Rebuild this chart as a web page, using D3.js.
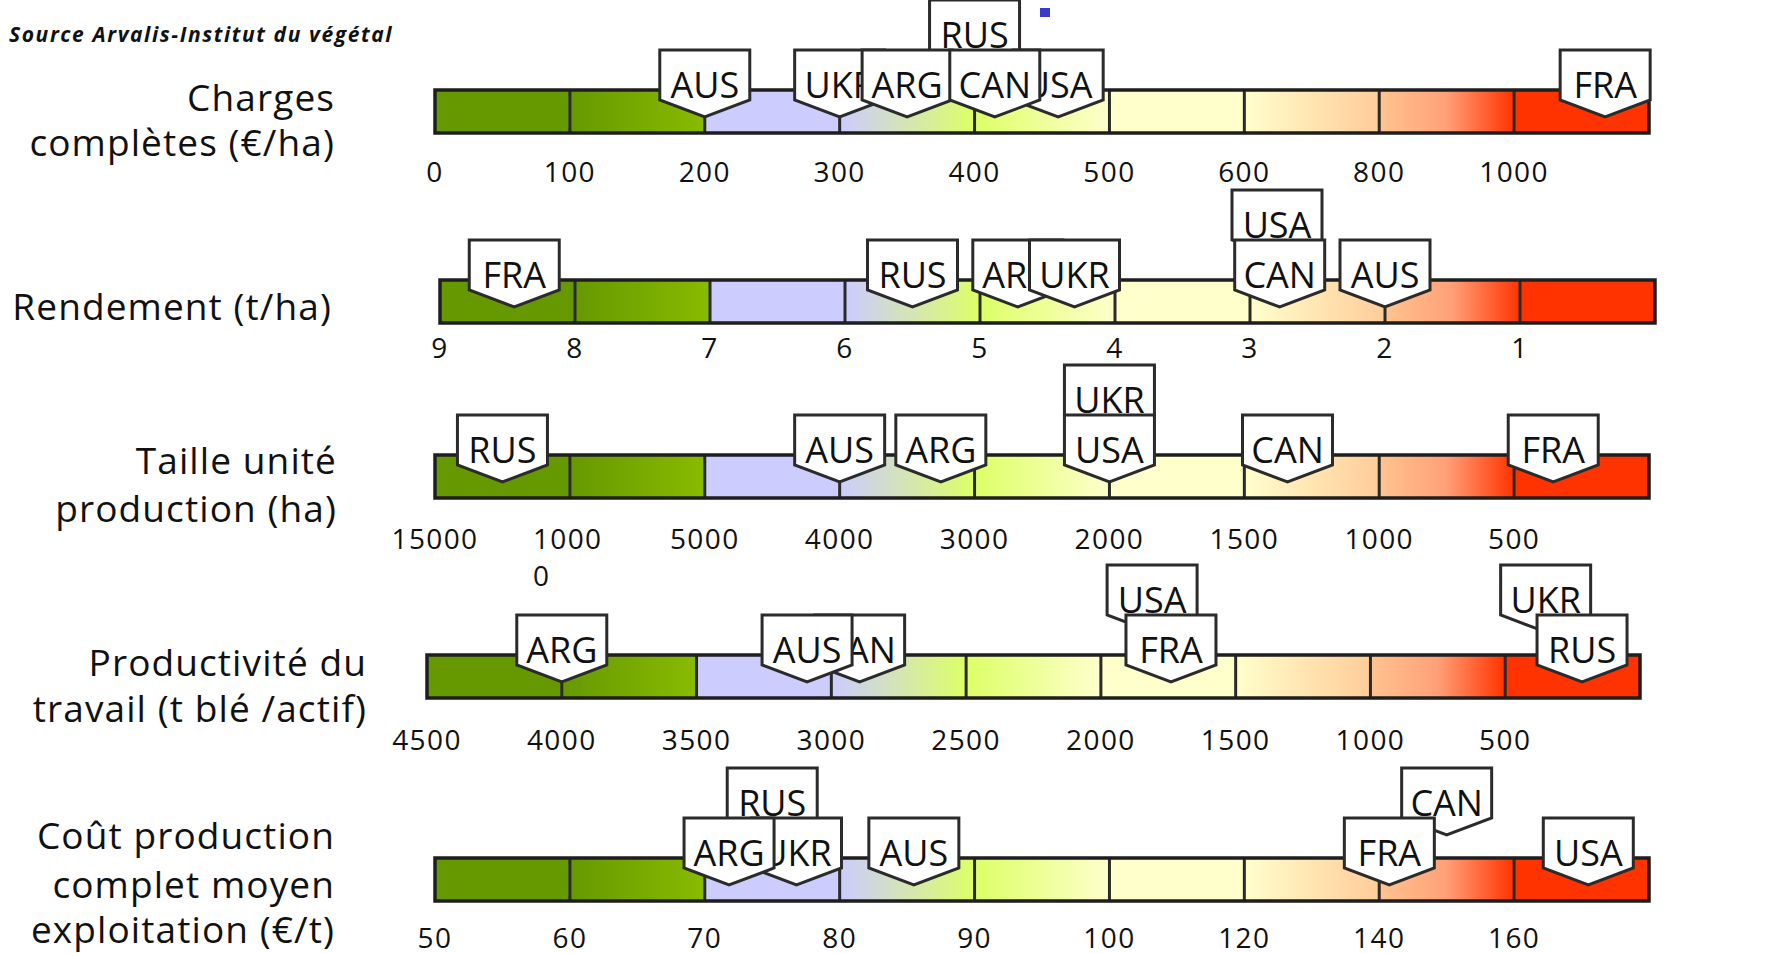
<!DOCTYPE html>
<html><head><meta charset="utf-8">
<script src="https://cdn.jsdelivr.net/npm/d3@7"></script>
<style>body{margin:0;background:#fff} svg{display:block}</style>
</head><body><svg id="c" width="1771" height="953"></svg>
<script>
// ---------- DATA ----------
const sourceText = "Source Arvalis-Institut du végétal";
const rowTitles = [
  ["Charges", "complètes (€/ha)"],
  ["Rendement (t/ha)"],
  ["Taille unité", "production (ha)"],
  ["Productivité du", "travail (t blé /actif)"],
  ["Coût production", "complet moyen", "exploitation (€/t)"]
];
// scale breakpoints (last one is the unlabelled end of the bar)
const chargesTicks      = [0, 100, 200, 300, 400, 500, 600, 800, 1000, 1200];
const rendementTicks    = [9, 8, 7, 6, 5, 4, 3, 2, 1, 0];
const tailleTicks       = [15000, 10000, 5000, 4000, 3000, 2000, 1500, 1000, 500, 0];
const productiviteTicks = [4500, 4000, 3500, 3000, 2500, 2000, 1500, 1000, 500, 0];
const coutTicks         = [50, 60, 70, 80, 90, 100, 120, 140, 160, 180];

// countries in drawing order, values, stacking tier (1 = raised marker)
const chargesCountries = ["RUS", "AUS", "UKR", "ARG", "USA", "CAN", "FRA"];
const chargesValues    = [400, 200, 300, 350, 462, 415, 1135];
const chargesTier      = [1, 0, 0, 0, 0, 0, 0];

const rendementCountries = ["USA", "FRA", "RUS", "ARG", "UKR", "CAN", "AUS"];
const rendementValues    = [2.8, 8.45, 5.5, 4.72, 4.3, 2.78, 2.0];
const rendementTier      = [1, 0, 0, 0, 0, 0, 0];

const tailleCountries = ["UKR", "RUS", "AUS", "ARG", "USA", "CAN", "FRA"];
const tailleValues    = [2000, 12500, 4000, 3250, 2000, 1340, 355];
const tailleTier      = [1, 0, 0, 0, 0, 0, 0];

const productiviteCountries = ["USA", "UKR", "ARG", "CAN", "AUS", "FRA", "RUS"];
const productiviteValues    = [1810, 350, 4000, 2895, 3090, 1740, 215];
const productiviteTier      = [1, 1, 0, 0, 0, 0, 0];

const coutCountries = ["RUS", "CAN", "UKR", "ARG", "AUS", "FRA", "USA"];
const coutValues    = [75, 150, 76.8, 71.8, 85.5, 141.5, 171];
const coutTier      = [1, 1, 0, 0, 0, 0, 0];

// ---------- STYLE / LAYOUT ----------
const segColors = [
  [["0", "#669900"], ["1", "#669900"]],
  [["0", "#669900"], ["1", "#88bb00"]],
  [["0", "#ccccff"], ["1", "#ccccff"]],
  [["0", "#ccccff"], ["1", "#ddff66"]],
  [["0", "#ddff66"], ["1", "#ffffcc"]],
  [["0", "#ffffcc"], ["1", "#ffffcc"]],
  [["0", "#ffffcc"], ["1", "#ffcc99"]],
  [["0", "#ffc490"], ["0.5", "#ff9f78"], ["1", "#ff3300"]],
  [["0", "#ff3300"], ["1", "#ff3300"]]
];
const FONT = "'Open Sans', 'Noto Sans', sans-serif";
const rows = [
  {ticks: chargesTicks, countries: chargesCountries, values: chargesValues, tier: chargesTier,
   x0: 435, x1: 1649, top: 90, labelY: 172, titleX: 335, titleYs: [98, 143]},
  {ticks: rendementTicks, countries: rendementCountries, values: rendementValues, tier: rendementTier,
   x0: 440, x1: 1655, top: 280, labelY: 348, titleX: 332, titleYs: [307]},
  {ticks: tailleTicks, countries: tailleCountries, values: tailleValues, tier: tailleTier,
   x0: 435, x1: 1649, top: 455, labelY: 539, titleX: 337, titleYs: [461, 509]},
  {ticks: productiviteTicks, countries: productiviteCountries, values: productiviteValues, tier: productiviteTier,
   x0: 427, x1: 1640, top: 655, labelY: 740, titleX: 367, titleYs: [663, 709]},
  {ticks: coutTicks, countries: coutCountries, values: coutValues, tier: coutTier,
   x0: 435, x1: 1649, top: 858, labelY: 938, titleX: 335, titleYs: [836, 885, 930]}
];
const BAR_H = 43, LIFT = 50;

const svg = d3.select("#c");
const defs = svg.append("defs");
segColors.forEach((stops, i) => {
  const g = defs.append("linearGradient").attr("id", "seg" + i)
    .attr("x1", "0").attr("x2", "1").attr("y1", "0").attr("y2", "0");
  stops.forEach(s => g.append("stop").attr("offset", s[0]).attr("stop-color", s[1]));
});

// source + small artefact
svg.append("text").attr("x", 9).attr("y", 42)
  .attr("font-family", FONT).attr("font-size", 21).attr("font-style", "italic")
  .attr("font-weight", 700).attr("letter-spacing", 1.6).attr("fill", "#111")
  .text(sourceText);
svg.append("rect").attr("x", 1040).attr("y", 8).attr("width", 10).attr("height", 9).attr("fill", "#3a3acc");

rows.forEach((r, ri) => {
  const n = r.ticks.length - 1;
  const range = d3.range(n + 1).map(i => r.x0 + (r.x1 - r.x0) * i / n);
  const x = d3.scaleLinear().domain(r.ticks).range(range);
  const g = svg.append("g");

  // title
  const t = g.append("text").attr("font-family", FONT).attr("font-size", 37)
    .attr("letter-spacing", 1.1).attr("text-anchor", "end").attr("fill", "#111");
  rowTitles[ri].forEach((line, li) => {
    t.append("tspan").attr("x", r.titleX).attr("y", r.titleYs[li] + 13).text(line);
  });

  // segments
  g.selectAll("rect.seg").data(d3.range(n)).join("rect")
    .attr("x", i => x(r.ticks[i])).attr("y", r.top)
    .attr("width", i => x(r.ticks[i + 1]) - x(r.ticks[i])).attr("height", BAR_H)
    .attr("fill", i => `url(#seg${i})`);
  // dividers
  g.selectAll("line.div").data(r.ticks.slice(1, -1)).join("line")
    .attr("x1", d => x(d)).attr("x2", d => x(d)).attr("y1", r.top).attr("y2", r.top + BAR_H)
    .attr("stroke", "#2a2a2a").attr("stroke-width", 3);
  g.append("rect").attr("x", r.x0).attr("y", r.top).attr("width", r.x1 - r.x0).attr("height", BAR_H)
    .attr("fill", "none").attr("stroke", "#1e1e1e").attr("stroke-width", 3.5);

  // tick labels
  const labels = r.ticks.slice(0, -1);
  labels.forEach((v, i) => {
    const s = String(v);
    const lt = g.append("text").attr("font-family", FONT).attr("font-size", 28)
      .attr("letter-spacing", 1.4).attr("fill", "#111");
    if (i > 0 && s.length > 4) {
      // wrapped label (text box too narrow)
      const w = 4 * 18.5;
      lt.append("tspan").attr("x", x(v) - w / 2).attr("y", r.labelY + 10).text(s.slice(0, 4));
      lt.append("tspan").attr("x", x(v) - w / 2).attr("y", r.labelY + 47).text(s.slice(4));
    } else {
      lt.attr("text-anchor", "middle").attr("x", x(v)).attr("y", r.labelY + 10).text(s);
    }
  });

  // markers
  const order = d3.range(r.countries.length).sort((a, b) => (r.tier[b] - r.tier[a]) || (a - b));
  order.forEach(i => {
    const cx = x(r.values[i]);
    const y0 = r.top - r.tier[i] * LIFT;
    const m = g.append("g").attr("transform", `translate(${cx},${y0})`);
    m.append("path").attr("d", "M-45,-40H45V10L0,27L-45,10Z")
      .attr("fill", "#fff").attr("stroke", "#2b2b2b").attr("stroke-width", 3)
      .attr("stroke-linejoin", "miter");
    m.append("text").attr("x", 0).attr("y", 8).attr("text-anchor", "middle")
      .attr("font-family", FONT).attr("font-size", 36).attr("fill", "#111")
      .text(r.countries[i]);
  });
});
</script></body></html>
